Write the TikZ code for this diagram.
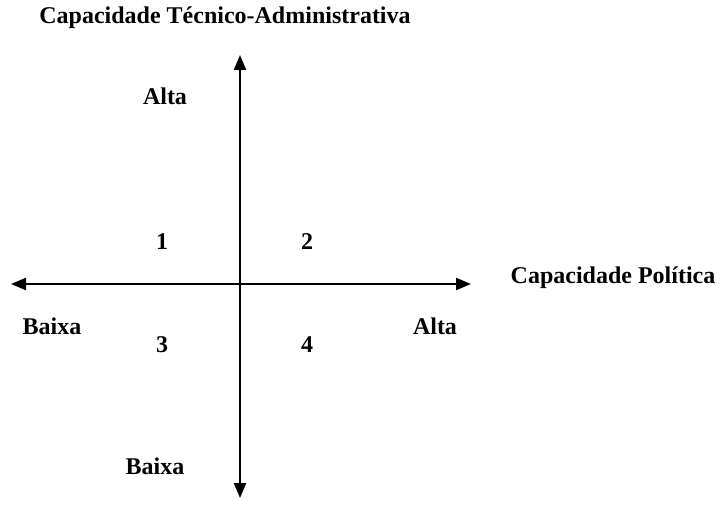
\documentclass[tikz,border=0pt]{standalone}
\usepackage{fontspec}
\setmainfont{Liberation Serif}
\usetikzlibrary{arrows.meta}
\begin{document}
\begin{tikzpicture}[x=1pt,y=-1pt,
  lbl/.style={font=\bfseries\fontsize{24}{28}\selectfont, inner sep=0pt},
  axis/.style={line width=2.2pt, -{Triangle[length=15pt,width=12pt]}}]
\useasboundingbox (0,0) rectangle (721,505);
\coordinate (c) at (240,284);
\coordinate (top) at (240,55);
\coordinate (bot) at (240,498);
\coordinate (lft) at (11,284);
\coordinate (rgt) at (471,284);
\draw[axis] (c) -- (top);
\draw[axis] (c) -- (bot);
\draw[axis] (c) -- (lft);
\draw[axis] (c) -- (rgt);
\node[lbl] (title) at (225,18) {Capacidade Técnico-Administrativa};
\node[lbl] (alta1) at (165,96) {Alta};
\node[lbl] (q1) at (162,242) {1};
\node[lbl] (q2) at (307,242) {2};
\node[lbl] (q3) at (162,345) {3};
\node[lbl] (q4) at (307,345) {4};
\node[lbl] (cp) at (613,278) {Capacidade Política};
\node[lbl] (baixa1) at (52,326) {Baixa};
\node[lbl] (alta2) at (435,326) {Alta};
\node[lbl] (baixa2) at (155,466) {Baixa};
\end{tikzpicture}
\end{document}
